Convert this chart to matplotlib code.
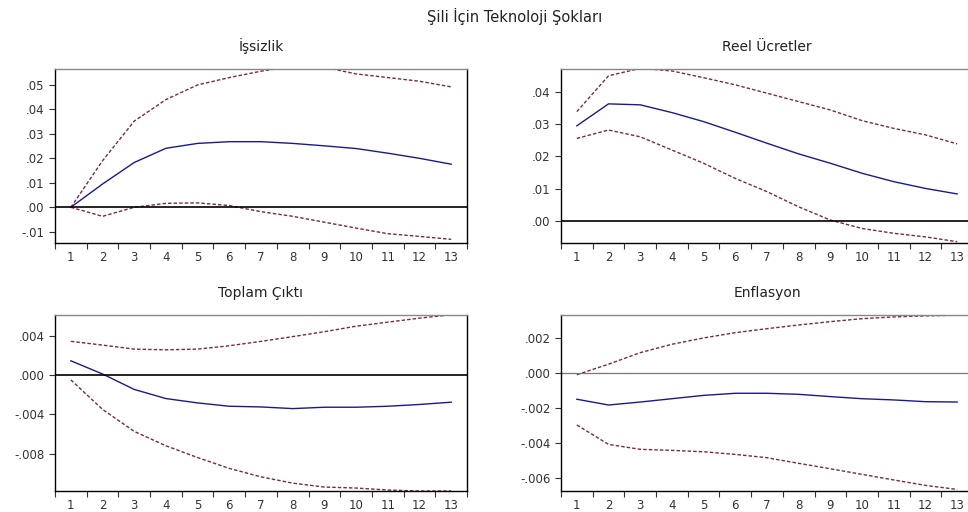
#!/usr/bin/env python3
"""
Impulse responses to a technology shock for Chile (4 panels, EViews style).
"""

import matplotlib
matplotlib.use('Agg')
import matplotlib.pyplot as plt
import numpy as np

plt.rcParams['font.family'] = ['DejaVu Sans']

periods = list(range(1, 14))

# Issizlik (unemployment)
unemp_mid = [0.0, 0.0095, 0.0183, 0.0241, 0.0261, 0.0268, 0.0268, 0.0261, 0.0251, 0.0240, 0.0221, 0.0200, 0.0176]
unemp_up = [0.0, 0.0190, 0.0352, 0.0440, 0.0500, 0.0530, 0.0556, 0.0576, 0.0572, 0.0545, 0.0530, 0.0515, 0.0492]
unemp_lo = [0.0, -0.0037, 0.0000, 0.0016, 0.0018, 0.0007, -0.0018, -0.0037, -0.0061, -0.0085, -0.0108, -0.0119, -0.0131]

# Reel Ucretler (real wages)
wage_mid = [0.0295, 0.0363, 0.0360, 0.0336, 0.0308, 0.0275, 0.0241, 0.0208, 0.0179, 0.0148, 0.0122, 0.0101, 0.0084]
wage_up = [0.0339, 0.0450, 0.0473, 0.0465, 0.0444, 0.0422, 0.0396, 0.0370, 0.0344, 0.0311, 0.0287, 0.0267, 0.0239]
wage_lo = [0.0256, 0.0282, 0.0261, 0.0220, 0.0179, 0.0132, 0.0091, 0.0044, 0.0003, -0.0023, -0.0038, -0.0049, -0.0064]

# Toplam Cikti (output)
out_mid = [0.00144, 0.0001, -0.00147, -0.0024, -0.00284, -0.00318, -0.00325, -0.00342, -0.00328, -0.00328, -0.00318, -0.0030, -0.00277]
out_up = [0.00342, 0.00304, 0.00263, 0.00256, 0.00263, 0.00297, 0.00342, 0.0039, 0.0044, 0.00496, 0.00537, 0.00578, 0.00612]
out_lo = [-0.0005, -0.0035, -0.00574, -0.0072, -0.0084, -0.0095, -0.01036, -0.0110, -0.0114, -0.0115, -0.0117, -0.0118, -0.0118]

# Enflasyon (inflation)
inf_mid = [-0.0015, -0.00183, -0.00166, -0.00147, -0.00128, -0.00116, -0.00116, -0.00122, -0.00135, -0.00147, -0.00154, -0.00164, -0.00166]
inf_up = [-0.0001, 0.0005, 0.00116, 0.00164, 0.0020, 0.0023, 0.00253, 0.00274, 0.00293, 0.0031, 0.0032, 0.00326, 0.0033]
inf_lo = [-0.00297, -0.00408, -0.00436, -0.00442, -0.0045, -0.00465, -0.00484, -0.00516, -0.00547, -0.00579, -0.00611, -0.00642, -0.00665]

W, H = 968, 512
fig = plt.figure(figsize=(W / 100, H / 100), dpi=100)
fig.patch.set_facecolor('white')

fig.text(515 / W, 1 - 16 / H, 'Şili İçin Teknoloji Şokları', ha='center', va='center',
         fontsize=10.5, color='#222222')

# panel spec: (left, top, right, bottom) in pixels
panels = [
    ('İşsizlik', (55, 69, 467, 243), unemp_mid, unemp_up, unemp_lo,
     (-0.0146, 0.0565), [-0.01, 0.0, 0.01, 0.02, 0.03, 0.04, 0.05],
     ['-.01', '.00', '.01', '.02', '.03', '.04', '.05'], 'black'),
    ('Reel Ücretler', (561, 69, 973, 243), wage_mid, wage_up, wage_lo,
     (-0.0068, 0.0471), [0.0, 0.01, 0.02, 0.03, 0.04],
     ['.00', '.01', '.02', '.03', '.04'], 'black'),
    ('Toplam Çıktı', (55, 315, 467, 491), out_mid, out_up, out_lo,
     (-0.0118, 0.0061), [-0.008, -0.004, 0.0, 0.004],
     ['-.008', '-.004', '.000', '.004'], 'black'),
    ('Enflasyon', (561, 315, 973, 491), inf_mid, inf_up, inf_lo,
     (-0.00674, 0.00331), [-0.006, -0.004, -0.002, 0.0, 0.002],
     ['-.006', '-.004', '-.002', '.000', '.002'], '#777777'),
]

band_color = '#7a2a3a'
mid_color = '#1a1a8c'

for title, (l, t, r, b), mid, up, lo, ylim, yt, ytl, zcol in panels:
    ax = fig.add_axes([l / W, 1 - b / H, (r - l) / W, (b - t) / H])
    ax.plot(periods, mid, color=mid_color, linewidth=1.0)
    ax.plot(periods, up, color=band_color, linewidth=1.0, linestyle=(0, (2.5, 1.5)))
    ax.plot(periods, lo, color=band_color, linewidth=1.0, linestyle=(0, (2.5, 1.5)))
    ax.axhline(0, color=zcol, linewidth=1.2 if zcol == 'black' else 0.9)

    ax.set_xlim(0.5, 13.5)
    ax.set_ylim(*ylim)
    ax.set_title(title, fontsize=10, color='#222222', pad=13)

    # category axis: labels at centers, tick marks at boundaries
    ax.set_xticks(periods)
    ax.set_xticklabels([str(p) for p in periods])
    ax.set_xticks(np.arange(0.5, 14.0, 1.0), minor=True)
    ax.tick_params(axis='x', which='major', length=0, pad=6, labelsize=8.5, labelcolor='#333333')
    ax.tick_params(axis='x', which='minor', length=4, width=0.8, direction='out', color='#333333')

    ax.set_yticks(yt)
    ax.set_yticklabels(ytl)
    ax.tick_params(axis='y', which='major', length=4, width=0.8, direction='out',
                   labelsize=8.5, labelcolor='#333333', color='#333333')

    for side in ['left', 'right', 'bottom']:
        ax.spines[side].set_color('black')
        ax.spines[side].set_linewidth(1.0)
    ax.spines['top'].set_color('#888888')
    ax.spines['top'].set_linewidth(1.0)

fig.savefig('out.png', dpi=100, facecolor='white')
